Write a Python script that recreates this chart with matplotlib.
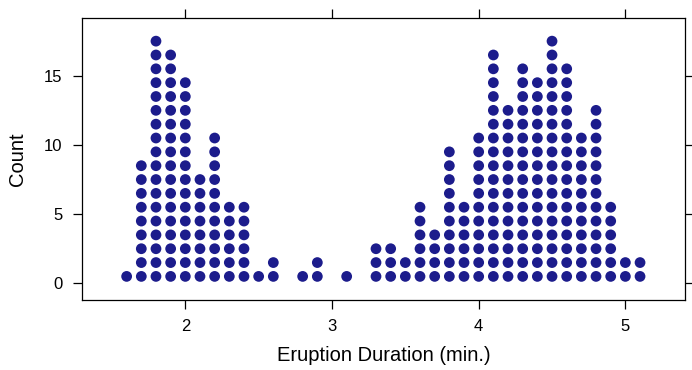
import matplotlib
matplotlib.use('Agg')
import matplotlib.pyplot as plt
import numpy as np

plt.rcParams['font.family'] = ['Liberation Sans', 'DejaVu Sans']

# Binned eruption durations (min.) and number of eruptions in each bin
durations = [1.6, 1.7, 1.8, 1.9, 2.0, 2.1, 2.2, 2.3, 2.4, 2.5, 2.6,
             2.8, 2.9, 3.1,
             3.3, 3.4, 3.5, 3.6, 3.7, 3.8, 3.9, 4.0, 4.1, 4.2, 4.3,
             4.4, 4.5, 4.6, 4.7, 4.8, 4.9, 5.0, 5.1]
counts = [1, 9, 18, 17, 15, 8, 11, 6, 6, 1, 2,
          1, 2, 1,
          3, 3, 2, 6, 4, 10, 6, 11, 17, 13, 16,
          15, 18, 16, 11, 13, 6, 2, 2]

x_ticks = [2, 3, 4, 5]
y_ticks = [0, 5, 10, 15]

fig = plt.figure(figsize=(6.92, 3.70), dpi=100)
ax = fig.add_axes([0.1192, 0.189, 0.871, 0.763])

# one dot per eruption, stacked at k - 0.5
xs, ys = [], []
for d, c in zip(durations, counts):
    for k in range(c):
        xs.append(d)
        ys.append(k + 0.5)
ax.scatter(xs, ys, s=60, color='#1c1c8c', edgecolors='none', zorder=3)

ax.set_xlim(1.299, 5.408)
ax.set_ylim(-1.21, 19.19)
ax.set_xticks(x_ticks)
ax.set_yticks(y_ticks)
ax.tick_params(direction='out', length=6.5, width=0.9, labelsize=12,
               top=True, right=True, labeltop=False, labelright=False)
ax.tick_params(axis='x', pad=7)
ax.tick_params(axis='y', pad=8)
for s in ax.spines.values():
    s.set_linewidth(0.9)

ax.set_xlabel('Eruption Duration (min.)', fontsize=14.5, labelpad=9)
ax.set_ylabel('Count', fontsize=14.5, labelpad=12)

plt.savefig('out.png', dpi=100)
